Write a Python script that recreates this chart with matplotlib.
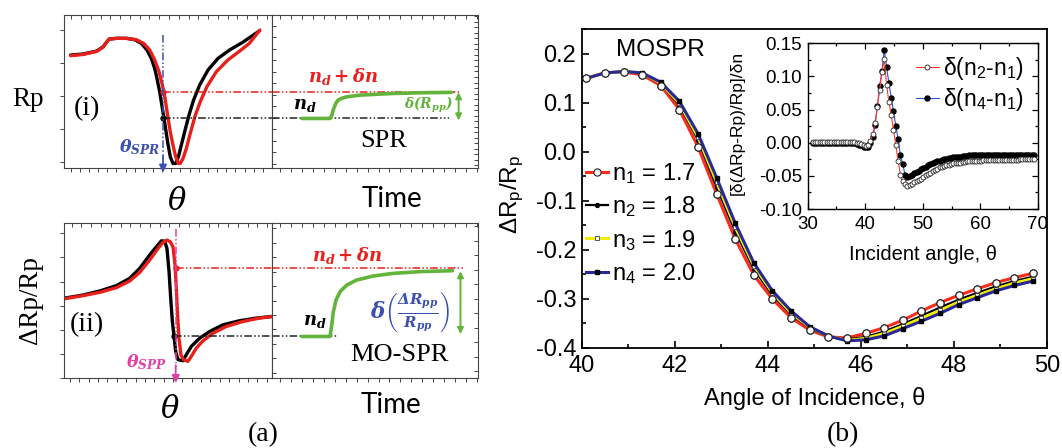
import numpy as np
import matplotlib.pyplot as plt
from matplotlib.ticker import MultipleLocator, FormatStrFormatter, FixedLocator

plt.rcParams['font.family'] = ['Liberation Sans', 'DejaVu Sans']
plt.rcParams['axes.unicode_minus'] = False
plt.rcParams['mathtext.fontset'] = 'custom'
plt.rcParams['mathtext.rm'] = 'Liberation Sans'
plt.rcParams['mathtext.it'] = 'DejaVu Serif:italic'
plt.rcParams['mathtext.bf'] = 'DejaVu Serif:italic:bold'

# ---- (a)(i) SPR schematic, arbitrary units 0..100 ----
ang_i_nd = [3.2, 9.3, 15.7, 18.8, 20.4, 21.7, 25.2, 30.0, 34.0, 37.2, 39.9, 42.0, 43.6, 44.7, 46.0,
            47.3, 48.6, 49.8, 51.1, 52.4, 53.7, 55.0, 56.4, 58.0, 60.1, 62.3, 65.2, 69.2, 74.0,
            79.6, 85.9, 93.9]
rp_i_nd = [73.9, 74.6, 76.5, 79.3, 82.2, 84.3, 84.8, 84.8, 83.9, 81.5, 77.2, 71.7, 65.2, 58.7, 50.0,
           39.1, 28.3, 17.4, 7.6, 3.3, 3.3, 7.6, 15.2, 23.9, 34.8, 44.6, 54.3, 64.1, 71.7,
           77.2, 82.2, 89.6]
ang_i_dn = [3.2, 9.3, 15.7, 18.8, 20.4, 21.7, 25.2, 30.0, 34.8, 38.3, 41.2, 43.6, 45.7, 47.3, 48.6,
            49.8, 51.1, 52.4, 53.7, 55.0, 55.9, 57.2, 58.8, 60.7, 62.9, 65.5, 68.7, 73.2, 78.8,
            85.1, 89.1, 94.2]
rp_i_dn = [73.5, 74.3, 76.3, 79.1, 82.2, 84.3, 84.8, 84.8, 83.9, 81.5, 77.2, 70.7, 63.0, 54.3, 45.7,
           34.8, 23.9, 15.2, 7.6, 3.3, 3.3, 6.5, 13.0, 22.8, 33.7, 43.5, 53.3, 63.0, 70.7,
           77.2, 81.5, 90.2]
time_i = [14.5, 28.2, 29.0, 29.8, 31.0, 32.3, 34.5, 36.3, 42.7, 58.9, 75.0, 87.1]
sig_i = [32.6, 32.6, 34.5, 38.5, 42.5, 44.8, 46.0, 46.7, 47.8, 48.9, 49.4, 49.6]
lvl_i_dn, lvl_i_nd, theta_spr = 49.6, 32.6, 47.6

# ---- (a)(ii) MO-SPR schematic ----
ang_ii_nd = [0, 9.3, 17.3, 25.2, 31.6, 36.4, 41.2, 44.4, 46.8, 48.4, 49.5, 50.5, 51.3, 52.1, 52.9,
             53.7, 54.8, 57.2, 58.8, 61.2, 65.2, 70.0, 76.4, 84.3, 92.3, 100]
mo_ii_nd = [51.3, 53.4, 56.0, 59.4, 64.1, 70.5, 79.1, 84.4, 88.2, 88.0, 83.3, 68.4, 51.3, 36.3, 26.7,
            17.1, 11.8, 11.1, 15.0, 20.3, 25.6, 29.9, 34.2, 36.8, 38.5, 39.6]
ang_ii_dn = [0, 9.3, 17.3, 25.2, 31.6, 36.4, 41.2, 45.2, 47.6, 49.5, 51.1, 52.4, 53.4, 54.0, 54.6,
             55.3, 56.2, 57.5, 59.6, 61.2, 63.6, 66.8, 71.6, 78.0, 85.9, 93.9, 100]
mo_ii_dn = [50.9, 53.0, 55.1, 58.1, 62.4, 67.9, 75.9, 83.3, 87.2, 88.7, 87.6, 84.4, 72.6, 57.7, 40.6,
            25.6, 15.0, 11.8, 10.7, 13.9, 19.2, 23.9, 28.8, 33.1, 36.3, 38.5, 39.5]
time_ii = [14.5, 28.2, 29.0, 29.8, 31.1, 33.1, 36.3, 41.1, 49.2, 58.9, 71.8, 87.6]
sig_ii = [26.7, 26.7, 34.2, 42.7, 50.2, 55.6, 59.8, 63.0, 65.6, 67.3, 68.4, 69.0]
lvl_ii_dn, lvl_ii_nd, theta_spp = 70.5, 26.7, 53.7

# ---- (b) main: dRp/Rp vs angle for four indices ----
angle = [40.1, 40.5, 40.9, 41.3, 41.7, 42.1, 42.5, 42.9, 43.3, 43.7, 44.1, 44.5, 44.9,
         45.3, 45.7, 46.1, 46.5, 46.9, 47.3, 47.7, 48.1, 48.5, 48.9, 49.3, 49.7]
n1 = [0.150, 0.161, 0.163, 0.157, 0.135, 0.086, 0.010, -0.086, -0.178, -0.252, -0.301, -0.339, -0.364,
      -0.378, -0.380, -0.371, -0.359, -0.344, -0.325, -0.308, -0.293, -0.280, -0.267, -0.257, -0.248]
n2 = [0.150, 0.161, 0.164, 0.160, 0.139, 0.095, 0.024, -0.072, -0.163, -0.240, -0.293, -0.332, -0.360,
      -0.377, -0.383, -0.378, -0.367, -0.352, -0.335, -0.318, -0.302, -0.288, -0.275, -0.264, -0.255]
n3 = [0.150, 0.161, 0.164, 0.161, 0.140, 0.099, 0.030, -0.062, -0.154, -0.233, -0.288, -0.329, -0.358,
      -0.376, -0.385, -0.381, -0.371, -0.356, -0.340, -0.324, -0.307, -0.293, -0.280, -0.268, -0.259]
n4 = [0.150, 0.161, 0.164, 0.161, 0.142, 0.103, 0.037, -0.053, -0.146, -0.227, -0.284, -0.325, -0.357,
      -0.376, -0.386, -0.384, -0.376, -0.361, -0.346, -0.330, -0.312, -0.298, -0.284, -0.273, -0.264]
n_labels = ['n$_\\mathregular{1}$ = 1.7', 'n$_\\mathregular{2}$ = 1.8',
            'n$_\\mathregular{3}$ = 1.9', 'n$_\\mathregular{4}$ = 2.0']

# ---- (b) inset: sensitivity vs angle ----
angle_in = np.round(np.arange(30.9, 69.31, 0.4), 1)
d21 = [0.001, 0.001, 0.001, 0.001, 0.001, 0.001, 0.001, 0.001, 0.001, 0.001,
       0.001, 0.001, 0.001, 0.001, 0.001, 0.001, 0.001, 0.001, 0.001, 0.000,
       -0.001, -0.002, -0.004, -0.005, -0.004, 0.002, 0.013, 0.030, 0.054, 0.080,
       0.106, 0.127, 0.087, 0.062, 0.042, 0.019, -0.004, -0.027, -0.048, -0.058,
       -0.062, -0.065, -0.064, -0.062, -0.060, -0.058, -0.056, -0.054, -0.051, -0.049,
       -0.047, -0.045, -0.043, -0.041, -0.039, -0.037, -0.036, -0.035, -0.034, -0.033,
       -0.032, -0.031, -0.031, -0.030, -0.030, -0.029, -0.029, -0.028, -0.028, -0.028,
       -0.027, -0.027, -0.027, -0.027, -0.026, -0.026, -0.026, -0.026, -0.026, -0.026,
       -0.026, -0.026, -0.026, -0.026, -0.026, -0.026, -0.026, -0.026, -0.026, -0.026,
       -0.025, -0.025, -0.025, -0.025, -0.025, -0.025, -0.025]
d41 = [-0.001, -0.001, -0.001, -0.001, -0.001, -0.001, -0.001, -0.001, -0.001, -0.001,
       -0.001, -0.001, -0.001, -0.001, -0.001, -0.001, -0.001, -0.001, -0.001, -0.002,
       -0.003, -0.004, -0.006, -0.007, -0.006, 0.000, 0.008, 0.026, 0.055, 0.086,
       0.108, 0.140, 0.114, 0.090, 0.068, 0.048, 0.025, 0.006, -0.018, -0.032,
       -0.048, -0.051, -0.050, -0.048, -0.046, -0.044, -0.042, -0.040, -0.038, -0.036,
       -0.034, -0.032, -0.031, -0.029, -0.028, -0.027, -0.026, -0.025, -0.024, -0.023,
       -0.023, -0.022, -0.022, -0.021, -0.021, -0.020, -0.020, -0.020, -0.019, -0.019,
       -0.019, -0.019, -0.018, -0.018, -0.018, -0.018, -0.018, -0.018, -0.018, -0.018,
       -0.018, -0.018, -0.018, -0.018, -0.018, -0.018, -0.018, -0.018, -0.018, -0.018,
       -0.018, -0.018, -0.018, -0.018, -0.018, -0.018, -0.018]

RED = '#e8201c'
GREEN = '#62b43a'
BLUE = '#3a4fb0'
MAGENTA = '#e040a8'
DASHDOT = (0, (5, 1.5, 1, 1.5, 1, 1.5))

W, H = 1062, 448
fig = plt.figure(figsize=(W / 100, H / 100), dpi=100)


def px_rect(x0, y0, x1, y1):
    return [x0 / W, 1 - y1 / H, (x1 - x0) / W, (y1 - y0) / H]


def schematic(ax, bottom, top, left, right, left_dir):
    ax.set_xlim(0, 100)
    ax.set_ylim(0, 100)
    for s in ax.spines.values():
        s.set_linewidth(0.8)
        s.set_color('#444444')
    ax.xaxis.remove_overlapping_locs = False
    ax.yaxis.remove_overlapping_locs = False
    ax.xaxis.set_major_locator(FixedLocator(bottom))
    ax.xaxis.set_minor_locator(FixedLocator(top))
    ax.yaxis.set_major_locator(FixedLocator(left))
    ax.yaxis.set_minor_locator(FixedLocator(right))
    ax.tick_params(axis='x', which='major', bottom=True, top=False, direction='out',
                   length=3, width=0.7, color='#444444', labelbottom=False)
    ax.tick_params(axis='x', which='minor', bottom=False, top=True, direction='in',
                   length=3, width=0.7, color='#444444')
    ax.tick_params(axis='y', which='major', left=True, right=False, direction=left_dir,
                   length=3, width=0.7, color='#444444', labelleft=False)
    ax.tick_params(axis='y', which='minor', left=False, right=len(right) > 0, direction='in',
                   length=3, width=0.7, color='#444444')


ax_i_ang = fig.add_axes(px_rect(64, 15, 272, 168.5))
ax_i_time = fig.add_axes(px_rect(272, 15, 478, 168.5))
ax_ii_ang = fig.add_axes(px_rect(64, 222.5, 272, 378))
ax_ii_time = fig.add_axes(px_rect(272, 222.5, 478, 378))

schematic(ax_i_ang, np.arange(3.2, 100, 4.4), np.arange(3.5, 100, 4.7),
          [4.3, 25.7, 47.4, 68.5, 90.2], [], 'out')
schematic(ax_i_time, np.arange(4, 100, 5.3), np.arange(4, 100, 5.3),
          np.arange(3, 100, 7.5), np.arange(2, 100, 3.6), 'in')
schematic(ax_ii_ang, np.arange(2.9, 100, 4.5), np.arange(3.7, 100, 4.7),
          np.arange(0, 100, 15.5), [], 'out')
schematic(ax_ii_time, np.arange(4, 100, 5.3), np.arange(4, 100, 5.3),
          np.arange(3.3, 100, 9.3), np.arange(4.5, 100, 9.3), 'in')

# (i) reflectance dip
ax = ax_i_ang
ax.plot(ang_i_nd, rp_i_nd, color='black', lw=2.4, solid_capstyle='round')
ax.plot(ang_i_dn, rp_i_dn, color=RED, lw=2.4, solid_capstyle='round')
ax.plot([theta_spr, 100], [lvl_i_dn] * 2, color=RED, lw=1.1, ls=DASHDOT)
ax.plot([theta_spr, 100], [lvl_i_nd] * 2, color='#222222', lw=1.1, ls=DASHDOT)
ax.plot([theta_spr], [lvl_i_dn], 'o', color=RED, ms=3.5)
ax.plot([theta_spr], [lvl_i_nd], 'o', color='black', ms=3.5)
ax.plot([theta_spr, theta_spr], [87, 6], color=BLUE, lw=1.1, ls=DASHDOT)
ax.annotate('', xy=(theta_spr, -4.5), xytext=(theta_spr, 10), annotation_clip=False,
            arrowprops=dict(arrowstyle='-|>', color=BLUE, lw=1.3, mutation_scale=11))
ax.text(10.9, 39, '(i)', family='Liberation Serif', size=20, ha='center', va='center')
ax.text(46, 14, r'$\mathbf{\theta_{SPR}}$', color=BLUE, size=12.5, ha='right', va='center')

ax = ax_i_time
ax.plot([0, 91], [lvl_i_dn] * 2, color=RED, lw=1.1, ls=DASHDOT)
ax.plot([0, 86], [lvl_i_nd] * 2, color='#222222', lw=1.1, ls=DASHDOT)
ax.plot(time_i, sig_i, color=GREEN, lw=2.6, solid_capstyle='round')
ax.annotate('', xy=(90.6, 29.5), xytext=(90.6, 51.5),
            arrowprops=dict(arrowstyle='<|-|>', color=GREEN, lw=1.4, mutation_scale=9))
ax.text(34.5, 59.8, r'$\mathbf{n_d+\delta n}$', color=RED, size=13, ha='center', va='center')
ax.text(16.1, 41.3, r'$\mathbf{n_d}$', color='black', size=13, ha='center', va='center')
ax.text(75.8, 41.3, r'$\mathbf{\delta(R_{pp})}$', color=GREEN, size=10, ha='center', va='center')
ax.text(54, 17.6, 'SPR', family='Liberation Serif', size=19, ha='center', va='center')

# (ii) magneto-optic signal
ax = ax_ii_ang
ax.plot(ang_ii_nd, mo_ii_nd, color='black', lw=2.4, solid_capstyle='round')
ax.plot(ang_ii_dn, mo_ii_dn, color=RED, lw=2.4, solid_capstyle='round')
ax.plot([theta_spp, 100], [lvl_ii_dn] * 2, color=RED, lw=1.1, ls=DASHDOT)
ax.plot([52.9, 100], [lvl_ii_nd] * 2, color='#222222', lw=1.1, ls=DASHDOT)
ax.plot([theta_spp], [lvl_ii_dn], 'o', color=RED, ms=3.5)
ax.plot([52.9], [lvl_ii_nd], 'o', color='black', ms=3.5)
ax.plot([theta_spp, theta_spp], [96, 6], color=MAGENTA, lw=1.1, ls=DASHDOT)
ax.annotate('', xy=(theta_spp, -5), xytext=(theta_spp, 10), annotation_clip=False,
            arrowprops=dict(arrowstyle='-|>', color=MAGENTA, lw=1.3, mutation_scale=11))
ax.text(10.9, 34.2, '(ii)', family='Liberation Serif', size=20, ha='center', va='center')
ax.text(49.5, 10.5, r'$\mathbf{\theta_{SPP}}$', color=MAGENTA, size=12.5, ha='right', va='center')

ax = ax_ii_time
ax.plot([0, 92.5], [lvl_ii_dn] * 2, color=RED, lw=1.1, ls=DASHDOT)
ax.plot([0, 32], [lvl_ii_nd] * 2, color='#222222', lw=1.1, ls=DASHDOT)
ax.plot(time_ii, sig_ii, color=GREEN, lw=2.6, solid_capstyle='round')
ax.annotate('', xy=(91.5, 26.5), xytext=(91.5, 70.5),
            arrowprops=dict(arrowstyle='<|-|>', color=GREEN, lw=1.4, mutation_scale=9))
ax.text(36.3, 79, r'$\mathbf{n_d+\delta n}$', color=RED, size=13, ha='center', va='center')
ax.text(21, 36.3, r'$\mathbf{n_d}$', color='black', size=13, ha='center', va='center')
ax.text(66.9, 42.7, r'$\mathbf{\delta\left(\frac{\Delta R_{pp}}{R_{pp}}\right)}$', color=BLUE,
        size=15.5, ha='center', va='center')
ax.text(62, 15, 'MO-SPR', family='Liberation Serif', size=19, ha='center', va='center')

fig.text(28 / W, 1 - 100 / H, 'Rp', family='Liberation Serif', size=19.5, ha='center', va='center')
fig.text(30 / W, 1 - 300 / H, 'ΔRp/Rp', family='Liberation Serif', size=19.5, rotation=90,
         ha='center', va='center')
fig.text(177 / W, 1 - 202 / H, r'$\theta$', size=22, ha='center', va='center')
fig.text(392 / W, 1 - 199 / H, 'Time', family='Lato', size=20, ha='center', va='center')
fig.text(170 / W, 1 - 410 / H, r'$\theta$', size=22, ha='center', va='center')
fig.text(391 / W, 1 - 405 / H, 'Time', family='Lato', size=20, ha='center', va='center')
fig.text(263 / W, 1 - 435 / H, '(a)', family='Liberation Serif', size=20, ha='center', va='center')
fig.text(843 / W, 1 - 435 / H, '(b)', family='Liberation Serif', size=20, ha='center', va='center')

# ---- (b) main ----
ax_b = fig.add_axes(px_rect(581.7, 29.3, 1047, 347.7))
styles = [
    dict(color='#ff2a1a', lw=2.2, marker='o', ms=5.2, mfc='white', mec='#222222', mew=0.8),
    dict(color='black', lw=1.6, marker='o', ms=2.8, mfc='black', mec='black'),
    dict(color='#f2ee00', lw=2.2, marker='s', ms=3.0, mfc='white', mec='#555555', mew=0.7),
    dict(color='#28289a', lw=2.2, marker='s', ms=3.4, mfc='black', mec='black'),
]
for vals, lab, st in zip([n1, n2, n3, n4], n_labels, styles):
    ax_b.plot(angle, vals, label=lab, **st)
ax_b.plot(angle, n1, ls='none', marker='o', ms=5.2, mfc='white', mec='#222222', mew=0.8, zorder=4)

ax_b.set_xlim(40, 50)
ax_b.set_ylim(-0.4, 0.25)
ax_b.xaxis.set_major_locator(MultipleLocator(2))
ax_b.xaxis.set_minor_locator(MultipleLocator(1))
ax_b.yaxis.set_major_locator(MultipleLocator(0.1))
ax_b.yaxis.set_minor_locator(MultipleLocator(0.05))
ax_b.yaxis.set_major_formatter(FormatStrFormatter('%.1f'))
ax_b.tick_params(which='both', direction='in', labelsize=17, width=1.2)
ax_b.tick_params(which='major', length=5)
ax_b.tick_params(which='minor', length=3)
ax_b.tick_params(axis='x', pad=5)
ax_b.tick_params(axis='y', pad=4)
for s in ax_b.spines.values():
    s.set_linewidth(1.3)
ax_b.set_xlabel('Angle of Incidence, θ', fontsize=17)
ax_b.xaxis.set_label_coords(0.5, -0.123)
ax_b.xaxis.label.set_va('top')
ax_b.set_ylabel('ΔR$_\\mathregular{p}$/R$_\\mathregular{p}$', fontsize=17.5)
ax_b.yaxis.set_label_coords(-0.12, 0.48)
ax_b.text(0.17, 0.935, 'MOSPR', transform=ax_b.transAxes, fontsize=17.5, ha='center', va='center')
ax_b.legend(loc='upper left', bbox_to_anchor=(0.01, 0.585), frameon=False, fontsize=17,
            handlelength=0.9, handletextpad=0.2, labelspacing=0.35, borderpad=0,
            borderaxespad=0)

# ---- (b) inset ----
ax_in = fig.add_axes(px_rect(807.7, 43.3, 1038, 209))
ax_in.plot(angle_in, d41, color='#3050c8', lw=0.8, marker='o', ms=3.6, mfc='black', mec='black',
           label='δ(n$_\\mathregular{4}$-n$_\\mathregular{1}$)')
ax_in.plot(angle_in, d21, color='#ff3a2a', lw=0.8, marker='o', ms=3.6, mfc='white', mec='#222222',
           mew=0.6, label='δ(n$_\\mathregular{2}$-n$_\\mathregular{1}$)')
ax_in.set_xlim(30, 70)
ax_in.set_ylim(-0.10, 0.15)
ax_in.xaxis.set_major_locator(MultipleLocator(10))
ax_in.xaxis.set_minor_locator(MultipleLocator(5))
ax_in.yaxis.set_major_locator(MultipleLocator(0.05))
ax_in.yaxis.set_minor_locator(MultipleLocator(0.025))
ax_in.yaxis.set_major_formatter(FormatStrFormatter('%.2f'))
ax_in.tick_params(which='both', direction='in', top=True, right=True, labelsize=13.5, width=0.9)
ax_in.tick_params(which='major', length=4)
ax_in.tick_params(which='minor', length=2.5)
ax_in.tick_params(axis='x', pad=5)
ax_in.tick_params(axis='y', pad=4)
for s in ax_in.spines.values():
    s.set_linewidth(1.0)
ax_in.set_xlabel('Incident angle, θ', fontsize=14.5)
ax_in.xaxis.set_label_coords(0.5, -0.22)
ax_in.xaxis.label.set_va('top')
ax_in.set_ylabel('[δ(ΔRp-Rp)/Rp]/δn', fontsize=12.5)
ax_in.yaxis.set_label_coords(-0.275, 0.52)
handles, labels = ax_in.get_legend_handles_labels()
ax_in.legend(handles[::-1], labels[::-1], loc='upper left', bbox_to_anchor=(0.47, 0.93),
             frameon=False, fontsize=16.5, handlelength=1.0, handletextpad=0.2,
             labelspacing=0.2, borderpad=0, borderaxespad=0)

fig.savefig('out.png', dpi=100)
